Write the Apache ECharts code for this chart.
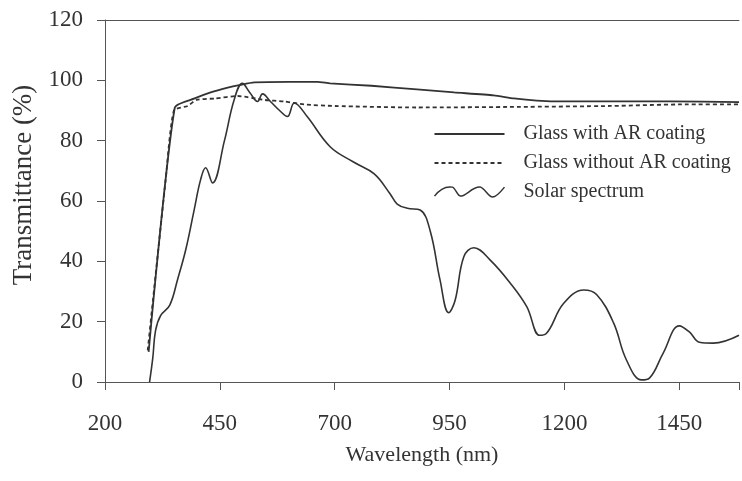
<!DOCTYPE html>
<html>
<head>
<meta charset="utf-8">
<script src="https://cdn.jsdelivr.net/npm/echarts@6/dist/echarts.min.js"></script>
<style>html,body{margin:0;padding:0;background:#fff;}#c{width:742px;height:481px;}</style>
</head>
<body>
<div id="c"></div>
<script>
// Wavelength (nm), Transmittance (%)
const glassWithAR = [[295,10],[352,91],[395,94],[430,96],[465,97.5],[495,98.5],[525,99.3],[600,99.5],[662,99.5],[690,99],[780,98.2],[879,97],[960,96],[1046,95],[1090,94],[1140,93.3],[1198,93],[1300,93],[1428,93],[1580,92.8]];
const glassWithoutAR = [[293,10.5],[332,67],[350,90],[380,91.5],[399,93.5],[440,94],[489,94.8],[547,93.5],[590,93],[634,92],[700,91.5],[879,91],[1100,91.2],[1300,91.5],[1450,92],[1580,92]];
const solarSpectrum = [[297,0],[304,8],[310,17],[321,22],[341,25.5],[358,34],[376,44],[394,57],[408,67],[419,71],[434,66],[460,80],[481,93.5],[499,99],[515,96],[532,93],[543,95.5],[560,93],[580,90],[597,88],[612,92.5],[640,88],[690,78],[740,73],[786,69],[820,62.5],[836,59],[858,57.6],[886,57],[908,50],[929,34],[948,23],[962,27],[981,41.5],[1003,44.5],[1038,40.5],[1081,33],[1118,25],[1146,15.5],[1160,16],[1198,26],[1242,30.5],[1270,29],[1307,19.6],[1335,7.3],[1368,0.7],[1385,1.3],[1415,9.6],[1450,18.6],[1472,16.6],[1494,13.2],[1524,12.9],[1580,15.5]];
const seriesNames = ['Glass with AR coating','Glass without AR coating','Solar spectrum'];
const xTicks = [200,450,700,950,1200,1450];
const yTicks = [0,20,40,60,80,100,120];

const ink = '#333';
const font = 'Liberation Serif';
const chart = echarts.init(document.getElementById('c'));
chart.setOption({
  animation: false,
  backgroundColor: '#fff',
  grid: {left: 105, right: 0, top: 20, bottom: 99, containLabel: false},
  legend: {
    orient: 'vertical', left: 432, top: 124, padding: 0, itemWidth: 70, itemHeight: 14, itemGap: 9,
    textStyle: {fontFamily: font, fontSize: 20, color: ink, padding: [0,0,0,14], lineHeight: 20},
    data: [
      {name: seriesNames[0], itemStyle: {opacity: 0}},
      {name: seriesNames[1], itemStyle: {opacity: 0}},
      {name: seriesNames[2], icon: 'path://M0,10 C6,2 12,0 18,1 C21,2 23,10 26,10 C32,10 38,0 46,1 C50,2 54,11 58,11 C62,11 66,6 70,1', itemStyle: {color: 'none', borderColor: ink, borderWidth: 1.5}}
    ]
  },
  xAxis: [{
    type: 'value', min: 200, max: 1580, interval: 250, position: 'bottom',
    name: 'Wavelength (nm)', nameLocation: 'middle', nameGap: 62,
    nameTextStyle: {fontFamily: font, fontSize: 22, color: ink},
    axisLine: {show: true, lineStyle: {color: '#555', width: 1}},
    axisTick: {show: true, length: 8, lineStyle: {color: '#555'}},
    axisLabel: {margin: 30, fontFamily: font, fontSize: 23, color: ink,
      formatter: v => xTicks.indexOf(v) >= 0 ? String(v) : ''},
    splitLine: {show: false}
  }, {
    type: 'value', min: 200, max: 1580, position: 'top',
    axisLine: {show: true, lineStyle: {color: '#555', width: 1}},
    axisTick: {show: false}, axisLabel: {show: false}, splitLine: {show: false}
  }],
  yAxis: {
    type: 'value', min: 0, max: 120, interval: 20,
    name: 'Transmittance (%)', nameLocation: 'middle', nameGap: 67,
    nameTextStyle: {fontFamily: font, fontSize: 27, color: ink, padding: [0,0,0,32]},
    axisLine: {show: true, lineStyle: {color: '#555', width: 1}},
    axisTick: {show: true, length: 8, lineStyle: {color: '#555'}},
    axisLabel: {margin: 22, fontFamily: font, fontSize: 23, color: ink,
      formatter: v => yTicks.indexOf(v) >= 0 ? String(v) : ''},
    splitLine: {show: false}
  },
  series: [
    {name: seriesNames[0], type: 'line', data: glassWithAR, symbol: 'none', smooth: 0.2,
     lineStyle: {color: ink, width: 1.8}, itemStyle: {color: ink}},
    {name: seriesNames[1], type: 'line', data: glassWithoutAR, symbol: 'none', smooth: 0.2,
     lineStyle: {color: ink, width: 1.8, type: [4,3]}, itemStyle: {color: ink}},
    {name: seriesNames[2], type: 'line', data: solarSpectrum, symbol: 'none', smooth: 0.4,
     lineStyle: {color: ink, width: 1.6}, itemStyle: {color: ink}}
  ]
});
</script>
</body>
</html>
